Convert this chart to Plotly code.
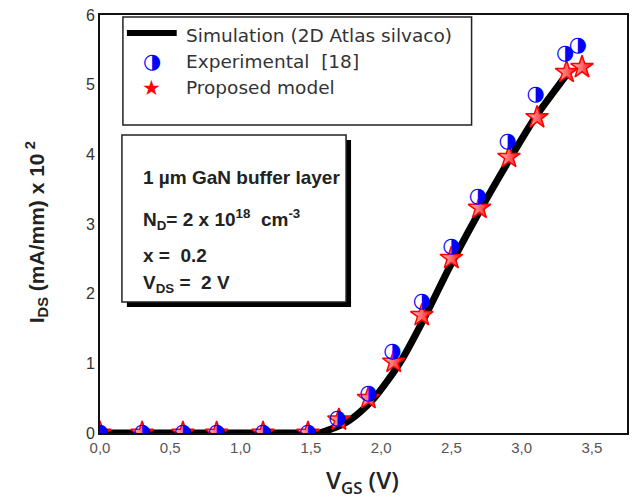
import plotly.graph_objects as go

# ---- data -------------------------------------------------------------
# Atlas (Silvaco) 2D simulation of the transfer characteristic
sim_vgs = [0.0, 0.5, 1.0, 1.5, 1.56, 1.65, 1.75, 1.85, 1.95, 2.05, 2.15,
           2.30, 2.50, 2.70, 2.90, 3.10, 3.33]
sim_ids = [0.0, 0.0, 0.0, 0.0, 0.0, 0.06, 0.15, 0.30, 0.50, 0.76, 1.06,
           1.62, 2.43, 3.18, 3.88, 4.54, 5.17]

# measured data, ref. [18]
exp_vgs = [0.0, 0.30, 0.59, 0.83, 1.16, 1.48, 1.69, 1.91, 2.08, 2.29, 2.50,
           2.69, 2.90, 3.10, 3.31, 3.40]
exp_ids = [0.0, 0.0, 0.0, 0.0, 0.0, 0.0, 0.21, 0.57, 1.16, 1.88, 2.67,
           3.39, 4.18, 4.85, 5.45, 5.56]

# analytical model
mod_vgs = [0.0, 0.30, 0.59, 0.83, 1.16, 1.48, 1.70, 1.91, 2.09, 2.29, 2.50,
           2.70, 2.91, 3.11, 3.32, 3.43]
mod_ids = [0.0, 0.0, 0.0, 0.0, 0.0, 0.0, 0.19, 0.50, 1.02, 1.69, 2.51,
           3.23, 3.96, 4.53, 5.18, 5.25]

x_tickvals = [0.0, 0.5, 1.0, 1.5, 2.0, 2.5, 3.0, 3.5]
x_ticktext = ["0,0", "0,5", "1,0", "1,5", "2,0", "2,5", "3,0", "3,5"]
y_tickvals = [0, 1, 2, 3, 4, 5, 6]
y_ticktext = ["0", "1", "2", "3", "4", "5", "6"]

legend_labels = ["Simulation (2D Atlas silvaco)", "Experimental  [18]",
                 "Proposed model"]
info_lines = [
    "<b>1 µm GaN buffer layer</b>",
    "<b>N<sub>D</sub>= 2 x 10<sup>18</sup>  cm<sup>-3</sup></b>",
    "<b>x =  0.2</b>",
    "<b>V<sub>DS</sub> =  2 V</b>",
]

# ---- geometry helpers (pixel -> paper) -------------------------------
W, H = 632, 502
L, R, T, B = 100, 3, 15, 69
PW, PH = W - L - R, H - T - B


def px(x):
    return (x - L) / PW


def py(y):
    return (H - B - y) / PH


FONT = "Liberation Sans, Arial, sans-serif"
BLUE = "#0000ff"
RED = "#ff0000"

fig = go.Figure()

fig.add_trace(go.Scatter(
    x=sim_vgs, y=sim_ids, mode="lines",
    line=dict(color="black", width=7, shape="spline", smoothing=0.6),
    showlegend=False, hoverinfo="skip"))

fig.add_trace(go.Scatter(
    x=mod_vgs, y=mod_ids, mode="markers",
    marker=dict(symbol="star", size=17, color="#ffd0d0",
                gradient=dict(type="horizontal", color=RED),
                line=dict(color=RED, width=1.5)),
    cliponaxis=True, showlegend=False, hoverinfo="skip"))

fig.add_trace(go.Scatter(
    x=exp_vgs, y=exp_ids, mode="text", text=["◑"] * len(exp_vgs),
    textposition="middle center",
    textfont=dict(family="DejaVu Sans", size=21, color=BLUE),
    cliponaxis=True, showlegend=False, hoverinfo="skip"))

shapes = []
annotations = []

# legend box
shapes.append(dict(type="rect", xref="paper", yref="paper",
                   x0=px(123), x1=px(473), y0=py(125), y1=py(17),
                   line=dict(color="#222", width=1.5), fillcolor="white",
                   layer="below"))
shapes.append(dict(type="line", xref="paper", yref="paper",
                   x0=px(127), x1=px(177), y0=py(33), y1=py(33),
                   line=dict(color="black", width=6)))
legend_y = [35, 61, 88]
for lab, yy in zip(legend_labels, legend_y):
    annotations.append(dict(
        xref="paper", yref="paper", x=px(184), y=py(yy), text=lab,
        showarrow=False, xanchor="left", yanchor="middle",
        font=dict(family="DejaVu Sans, sans-serif", size=18.5, color="#333")))
annotations.append(dict(
    xref="paper", yref="paper", x=px(152), y=py(61), text="◑",
    showarrow=False, xanchor="center", yanchor="middle",
    font=dict(family="DejaVu Sans", size=21, color=BLUE)))
annotations.append(dict(
    xref="paper", yref="paper", x=px(152), y=py(88), text="★",
    showarrow=False, xanchor="center", yanchor="middle",
    font=dict(family="DejaVu Sans", size=21, color=RED)))

# parameter box with drop shadow
shapes.append(dict(type="rect", xref="paper", yref="paper",
                   x0=px(127), x1=px(352), y0=py(307), y1=py(140),
                   line=dict(width=0), fillcolor="black", layer="below"))
shapes.append(dict(type="rect", xref="paper", yref="paper",
                   x0=px(122), x1=px(347), y0=py(302), y1=py(135),
                   line=dict(color="#222", width=1.5), fillcolor="white",
                   layer="below"))
info_y = [177, 219, 256, 284]
for txt, yy in zip(info_lines, info_y):
    annotations.append(dict(
        xref="paper", yref="paper", x=px(141), y=py(yy), text=txt,
        showarrow=False, xanchor="left", yanchor="middle",
        font=dict(family=FONT, size=19, color="#222")))

# axis titles
annotations.append(dict(
    xref="paper", yref="paper", x=px(36), y=py(232),
    text="<b>I<sub>DS</sub> (mA/mm) x 10<sup> 2</sup></b>", textangle=-90,
    showarrow=False, xanchor="center", yanchor="middle",
    font=dict(family=FONT, size=21, color="#222")))
annotations.append(dict(
    xref="paper", yref="paper", x=px(363), y=py(481),
    text="V<sub>GS</sub> (V)",
    showarrow=False, xanchor="center", yanchor="middle",
    font=dict(family="Open Sans, sans-serif", size=24, weight=600,
              color="#222")))

fig.update_layout(
    width=W, height=H,
    margin=dict(l=L, r=R, t=T, b=B, pad=0),
    paper_bgcolor="white", plot_bgcolor="white",
    showlegend=False,
    shapes=shapes, annotations=annotations,
    xaxis=dict(range=[0, 3.75], showgrid=False, zeroline=False,
               showline=True, mirror=True, linecolor="#111", linewidth=2,
               ticks="", tickvals=x_tickvals, ticktext=x_ticktext,
               tickfont=dict(family=FONT, size=15, color="#555")),
    yaxis=dict(range=[0, 6], showgrid=False, zeroline=False,
               showline=True, mirror=True, linecolor="#111", linewidth=2,
               ticks="", tickvals=y_tickvals, ticktext=y_ticktext,
               tickfont=dict(family=FONT, size=16, color="#333")),
)

fig.write_html("out.html")
